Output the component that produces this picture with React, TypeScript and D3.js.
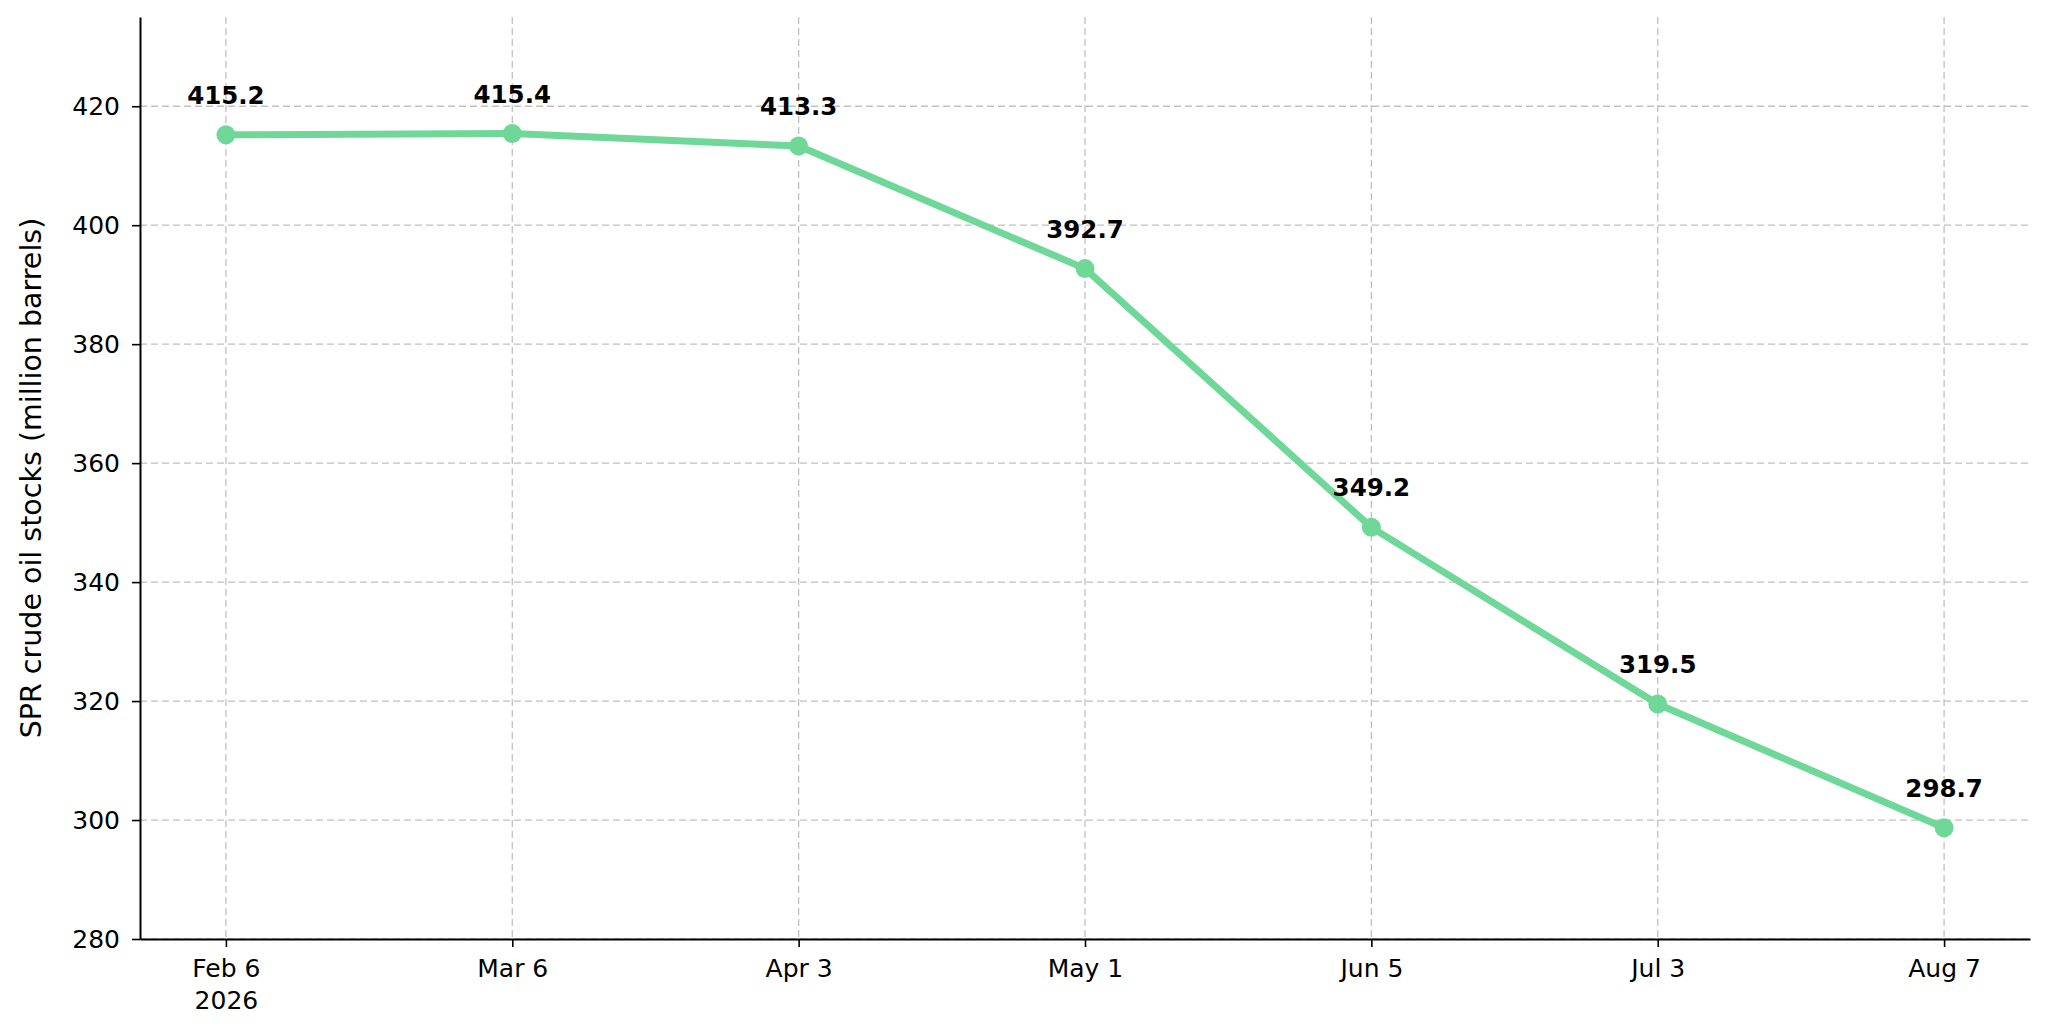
import React, { useEffect, useRef } from 'react';
import * as d3 from 'd3';

const dates = ['Feb 6', 'Mar 6', 'Apr 3', 'May 1', 'Jun 5', 'Jul 3', 'Aug 7'];
const yearLabel = '2026';
const stocks = [415.2, 415.4, 413.3, 392.7, 349.2, 319.5, 298.7];
const yTicks = [280, 300, 320, 340, 360, 380, 400, 420];
const yLabel = 'SPR crude oil stocks (million barrels)';

const WIDTH = 2048;
const HEIGHT = 1033;

export default function App() {
  const svgRef = useRef<SVGSVGElement>(null);

  useEffect(() => {
    if (!svgRef.current) return;
    const svg = d3.select(svgRef.current);
    svg.selectAll('*').remove();

    const left = 140;
    const right = 2030;
    const top = 17;
    const bottom = 939;
    const font = 'DejaVu Sans, sans-serif';

    const x = d3.scalePoint<string>()
      .domain(dates)
      .range([left, right])
      .padding(0.3);

    const y = d3.scaleLinear()
      .domain([280, 435])
      .range([bottom, top]);

    // grid
    const grid = svg.append('g')
      .attr('stroke', '#c0c0c0')
      .attr('stroke-width', 1.3)
      .attr('stroke-dasharray', '7,4');

    grid.selectAll('.vgrid')
      .data(dates)
      .enter().append('line')
      .attr('x1', d => x(d)!)
      .attr('x2', d => x(d)!)
      .attr('y1', top)
      .attr('y2', bottom);

    grid.selectAll('.hgrid')
      .data(yTicks)
      .enter().append('line')
      .attr('x1', left)
      .attr('x2', right)
      .attr('y1', d => y(d))
      .attr('y2', d => y(d));

    // line + markers
    const line = d3.line<number>()
      .x((_, i) => x(dates[i])!)
      .y(d => y(d));

    svg.append('path')
      .datum(stocks)
      .attr('fill', 'none')
      .attr('stroke', '#6fd898')
      .attr('stroke-width', 7)
      .attr('stroke-linejoin', 'round')
      .attr('d', line);

    svg.selectAll('.dot')
      .data(stocks)
      .enter().append('circle')
      .attr('cx', (_, i) => x(dates[i])!)
      .attr('cy', d => y(d))
      .attr('r', 9.5)
      .attr('fill', '#6fd898');

    // value labels
    svg.selectAll('.val')
      .data(stocks)
      .enter().append('text')
      .attr('x', (_, i) => x(dates[i])!)
      .attr('y', d => y(d) - 31)
      .attr('text-anchor', 'middle')
      .style('font-family', font)
      .style('font-size', '24.5px')
      .style('font-weight', 'bold')
      .style('fill', '#000')
      .text(d => d.toFixed(1));

    // x axis
    const xAxis = svg.append('g')
      .attr('transform', `translate(0,${bottom})`)
      .call(d3.axisBottom(x).tickSizeInner(8).tickSizeOuter(0).tickPadding(12));
    xAxis.select('.domain').attr('stroke', '#000').attr('stroke-width', 2);
    xAxis.selectAll('.tick line').attr('stroke', '#000').attr('stroke-width', 1.6);
    xAxis.selectAll('.tick text')
      .style('font-family', font)
      .style('font-size', '25px')
      .style('fill', '#000')
      .attr('dy', '0.71em');
    xAxis.selectAll<SVGGElement, string>('.tick')
      .filter(d => d === dates[0])
      .append('text')
      .attr('y', 52)
      .attr('dy', '0.71em')
      .attr('text-anchor', 'middle')
      .style('font-family', font)
      .style('font-size', '25px')
      .style('fill', '#000')
      .text(yearLabel);

    // y axis
    const yAxis = svg.append('g')
      .attr('transform', `translate(${left},0)`)
      .call(d3.axisLeft(y).tickValues(yTicks).tickSizeInner(8).tickSizeOuter(0).tickPadding(12));
    yAxis.select('.domain').attr('stroke', '#000').attr('stroke-width', 2);
    yAxis.selectAll('.tick line').attr('stroke', '#000').attr('stroke-width', 1.6);
    yAxis.selectAll('.tick text')
      .style('font-family', font)
      .style('font-size', '25px')
      .style('fill', '#000');

    svg.append('text')
      .attr('transform', `translate(41,${(top + bottom) / 2}) rotate(-90)`)
      .attr('text-anchor', 'middle')
      .style('font-family', font)
      .style('font-size', '28.5px')
      .style('fill', '#000')
      .text(yLabel);
  }, []);

  return (
    <div style={{ position: 'absolute', left: 0, top: 0, background: '#fff' }}>
      <svg ref={svgRef} width={WIDTH} height={HEIGHT} style={{ display: 'block' }} />
    </div>
  );
}
